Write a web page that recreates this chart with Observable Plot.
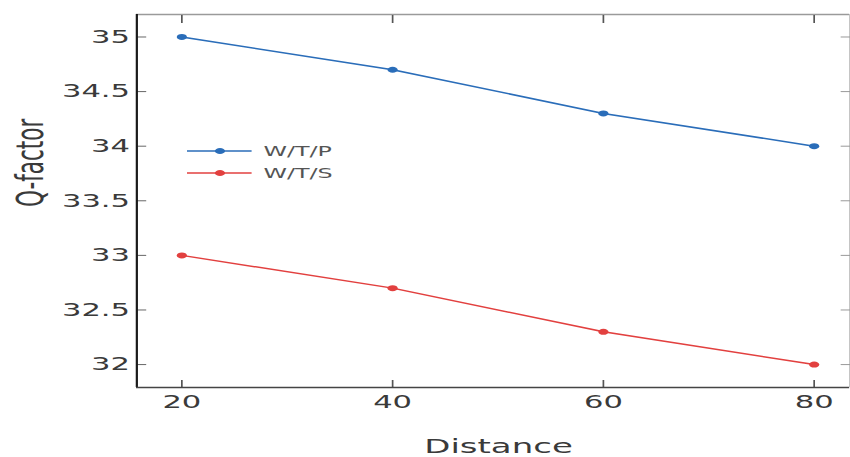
<!DOCTYPE html>
<html><head><meta charset="utf-8">
<script src="https://cdn.jsdelivr.net/npm/d3@7"></script>
<script src="https://cdn.jsdelivr.net/npm/@observablehq/plot@0.6"></script>
<style>
html,body{margin:0;padding:0;background:#fff;overflow:hidden}
#chart svg{display:block}
</style>
</head><body><div id="chart"></div>
<script>
const distance = [20, 40, 60, 80];
const seriesNames = ["W/T/P", "W/T/S"];
const wtp = [35, 34.7, 34.3, 34.0];
const wts = [33, 32.7, 32.3, 32.0];
const xTicks = [20, 40, 60, 80];
const yTicks = [32, 32.5, 33, 33.5, 34, 34.5, 35];
const colors = ["#2a6db9", "#e2403f"];

const rows = [
  ...distance.map((d, i) => ({series: seriesNames[0], x: d, y: wtp[i]})),
  ...distance.map((d, i) => ({series: seriesNames[1], x: d, y: wts[i]}))
];

const K = 1.7;            // the reference image is stretched horizontally
const W = 850 / K, H = 457;
const xDomain = [15.73, 83.4], yDomain = [31.79, 35.206];
const fmt = d => String(d);

const plot = Plot.plot({
  width: W, height: H,
  marginLeft: 80, marginRight: 0.5, marginTop: 14, marginBottom: 70,
  style: {fontFamily: "DejaVu Sans", fontSize: "18px", color: "#3a3a3a", background: "#fff"},
  x: {domain: xDomain},
  y: {domain: yDomain},
  color: {domain: seriesNames, range: colors},
  marks: [
    // frame
    Plot.ruleY([yDomain[1]], {stroke: "#9a9a9a", strokeWidth: 1.6}),
    Plot.ruleX([xDomain[1]], {stroke: "#bbbbbb", strokeWidth: 1}),
    // inward ticks
    Plot.axisX({ticks: xTicks, anchor: "bottom", tickSize: -7, tickFormat: () => "", label: null, stroke: "#555"}),
    Plot.axisX({ticks: xTicks, anchor: "top", tickSize: -8, tickFormat: () => "", label: null, stroke: "#555"}),
    Plot.axisY({ticks: yTicks, anchor: "left", tickSize: -6, tickFormat: () => "", label: null, stroke: "#666"}),
    Plot.axisY({ticks: yTicks, anchor: "right", tickSize: -6, tickFormat: () => "", label: null, stroke: "#999"}),
    // tick labels
    Plot.axisX({ticks: xTicks, anchor: "bottom", tickSize: 0, tickPadding: 8, tickFormat: fmt, label: null}),
    Plot.axisY({ticks: yTicks, anchor: "left", tickSize: 0, tickPadding: 4, tickFormat: fmt, label: null}),
    Plot.ruleX([xDomain[0]], {stroke: "#1a1a1a", strokeWidth: 1.3}),
    Plot.ruleY([yDomain[0]], {stroke: "#444", strokeWidth: 1.7}),
    // axis titles
    Plot.text(["Distance"], {frameAnchor: "bottom", dy: 51, dx: 3, lineAnchor: "top", fontSize: 20, fill: "#3a3a3a"}),
    Plot.text(["Q-factor"], {frameAnchor: "left", dx: -62, dy: 6, rotate: -90, fontSize: 21.5, fill: "#3a3a3a"}),
    // data
    Plot.line(rows, {x: "x", y: "y", stroke: "series", strokeWidth: 1.5}),
    Plot.dot(rows, {x: "x", y: "y", fill: "series", r: 3})
  ]
});

const svg = plot.tagName.toLowerCase() === "svg" ? plot : plot.querySelector("svg");

// legend (drawn in the un-stretched coordinate space)
const lg = d3.select(svg).append("g")
  .attr("font-family", "DejaVu Sans").attr("font-size", 14).attr("text-anchor", "start");
seriesNames.forEach((name, i) => {
  const y = 151 + i * 22;
  lg.append("line").attr("x1", 110).attr("x2", 148).attr("y1", y).attr("y2", y)
    .attr("stroke", colors[i]).attr("stroke-width", 1.5);
  lg.append("circle").attr("cx", 129.4).attr("cy", y).attr("r", 3).attr("fill", colors[i]);
  lg.append("text").attr("x", 155).attr("y", y).attr("dy", "0.36em")
    .attr("text-anchor", "start").attr("fill", "#555").text(name);
});

svg.setAttribute("preserveAspectRatio", "none");
svg.style.width = "850px";
svg.style.height = "457px";
svg.style.maxWidth = "none";
document.getElementById("chart").appendChild(plot);
</script>
</body></html>
